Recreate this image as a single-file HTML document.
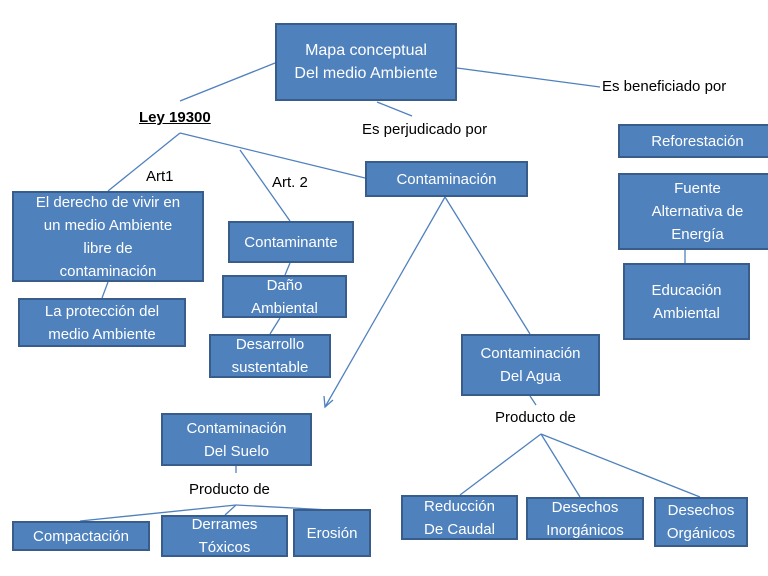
<!DOCTYPE html>
<html><head><style>
body{margin:0;width:768px;height:576px;background:#fff;position:relative;overflow:hidden;font-family:"Liberation Sans",sans-serif}
.b{position:absolute;background:#4f81bd;border:2px solid #385d8a;box-sizing:border-box;color:#fff;display:flex;align-items:center;justify-content:center;text-align:center;font-size:15px;line-height:23px}
.t{position:absolute;color:#000;font-size:15px;white-space:nowrap}
svg{position:absolute;left:0;top:0}
</style></head><body>
<svg width="768" height="576" stroke="#4f81bd" stroke-width="1.3" fill="none">
<line x1="275" y1="63" x2="180" y2="101"/>
<line x1="377" y1="102" x2="412" y2="116"/>
<line x1="457" y1="68" x2="600" y2="87"/>
<line x1="180" y1="133" x2="108" y2="191"/>
<line x1="180" y1="133" x2="365" y2="178"/>
<line x1="240" y1="150" x2="290" y2="221"/>
<line x1="108" y1="282" x2="102" y2="298"/>
<line x1="290" y1="263" x2="285" y2="275"/>
<line x1="280" y1="318" x2="270" y2="334"/>
<line x1="445" y1="197" x2="325" y2="407"/>
<polyline points="324,396 325,407 333,400"/>
<line x1="445" y1="197" x2="530" y2="334"/>
<line x1="530" y1="396" x2="536" y2="405"/>
<line x1="541" y1="434" x2="460" y2="495"/>
<line x1="541" y1="434" x2="580" y2="497"/>
<line x1="541" y1="434" x2="700" y2="497"/>
<line x1="236" y1="466" x2="236" y2="473"/>
<line x1="236" y1="505" x2="80" y2="521"/>
<line x1="236" y1="505" x2="225" y2="515"/>
<line x1="236" y1="505" x2="330" y2="510"/>
<line x1="685" y1="250" x2="685" y2="263"/>
</svg>
<div class="b" style="left:275px;top:23px;width:182px;height:78px;font-size:16px">Mapa conceptual<br>Del medio Ambiente</div>
<div class="b" style="left:365px;top:161px;width:163px;height:36px">Contaminación</div>
<div class="b" style="left:618px;top:124px;width:159px;height:34px">Reforestación</div>
<div class="b" style="left:618px;top:173px;width:159px;height:77px">Fuente<br>Alternativa de<br>Energía</div>
<div class="b" style="left:623px;top:263px;width:127px;height:77px">Educación<br>Ambiental</div>
<div class="b" style="left:12px;top:191px;width:192px;height:91px">El derecho de vivir en<br>un medio Ambiente<br>libre de<br>contaminación</div>
<div class="b" style="left:18px;top:298px;width:168px;height:49px">La protección del<br>medio Ambiente</div>
<div class="b" style="left:228px;top:221px;width:126px;height:42px">Contaminante</div>
<div class="b" style="left:222px;top:275px;width:125px;height:43px">Daño<br>Ambiental</div>
<div class="b" style="left:209px;top:334px;width:122px;height:44px">Desarrollo<br>sustentable</div>
<div class="b" style="left:461px;top:334px;width:139px;height:62px">Contaminación<br>Del Agua</div>
<div class="b" style="left:161px;top:413px;width:151px;height:53px">Contaminación<br>Del Suelo</div>
<div class="b" style="left:12px;top:521px;width:138px;height:30px">Compactación</div>
<div class="b" style="left:161px;top:515px;width:127px;height:42px">Derrames<br>Tóxicos</div>
<div class="b" style="left:293px;top:509px;width:78px;height:48px">Erosión</div>
<div class="b" style="left:401px;top:495px;width:117px;height:45px">Reducción<br>De Caudal</div>
<div class="b" style="left:526px;top:497px;width:118px;height:43px">Desechos<br>Inorgánicos</div>
<div class="b" style="left:654px;top:497px;width:94px;height:50px">Desechos<br>Orgánicos</div>
<div class="t" style="left:139px;top:109px;font-weight:bold;text-decoration:underline">Ley 19300</div>
<div class="t" style="left:362px;top:121px">Es perjudicado por</div>
<div class="t" style="left:602px;top:78px">Es beneficiado por</div>
<div class="t" style="left:146px;top:168px">Art1</div>
<div class="t" style="left:272px;top:174px">Art. 2</div>
<div class="t" style="left:495px;top:409px">Producto de</div>
<div class="t" style="left:189px;top:481px">Producto de</div>
</body></html>
